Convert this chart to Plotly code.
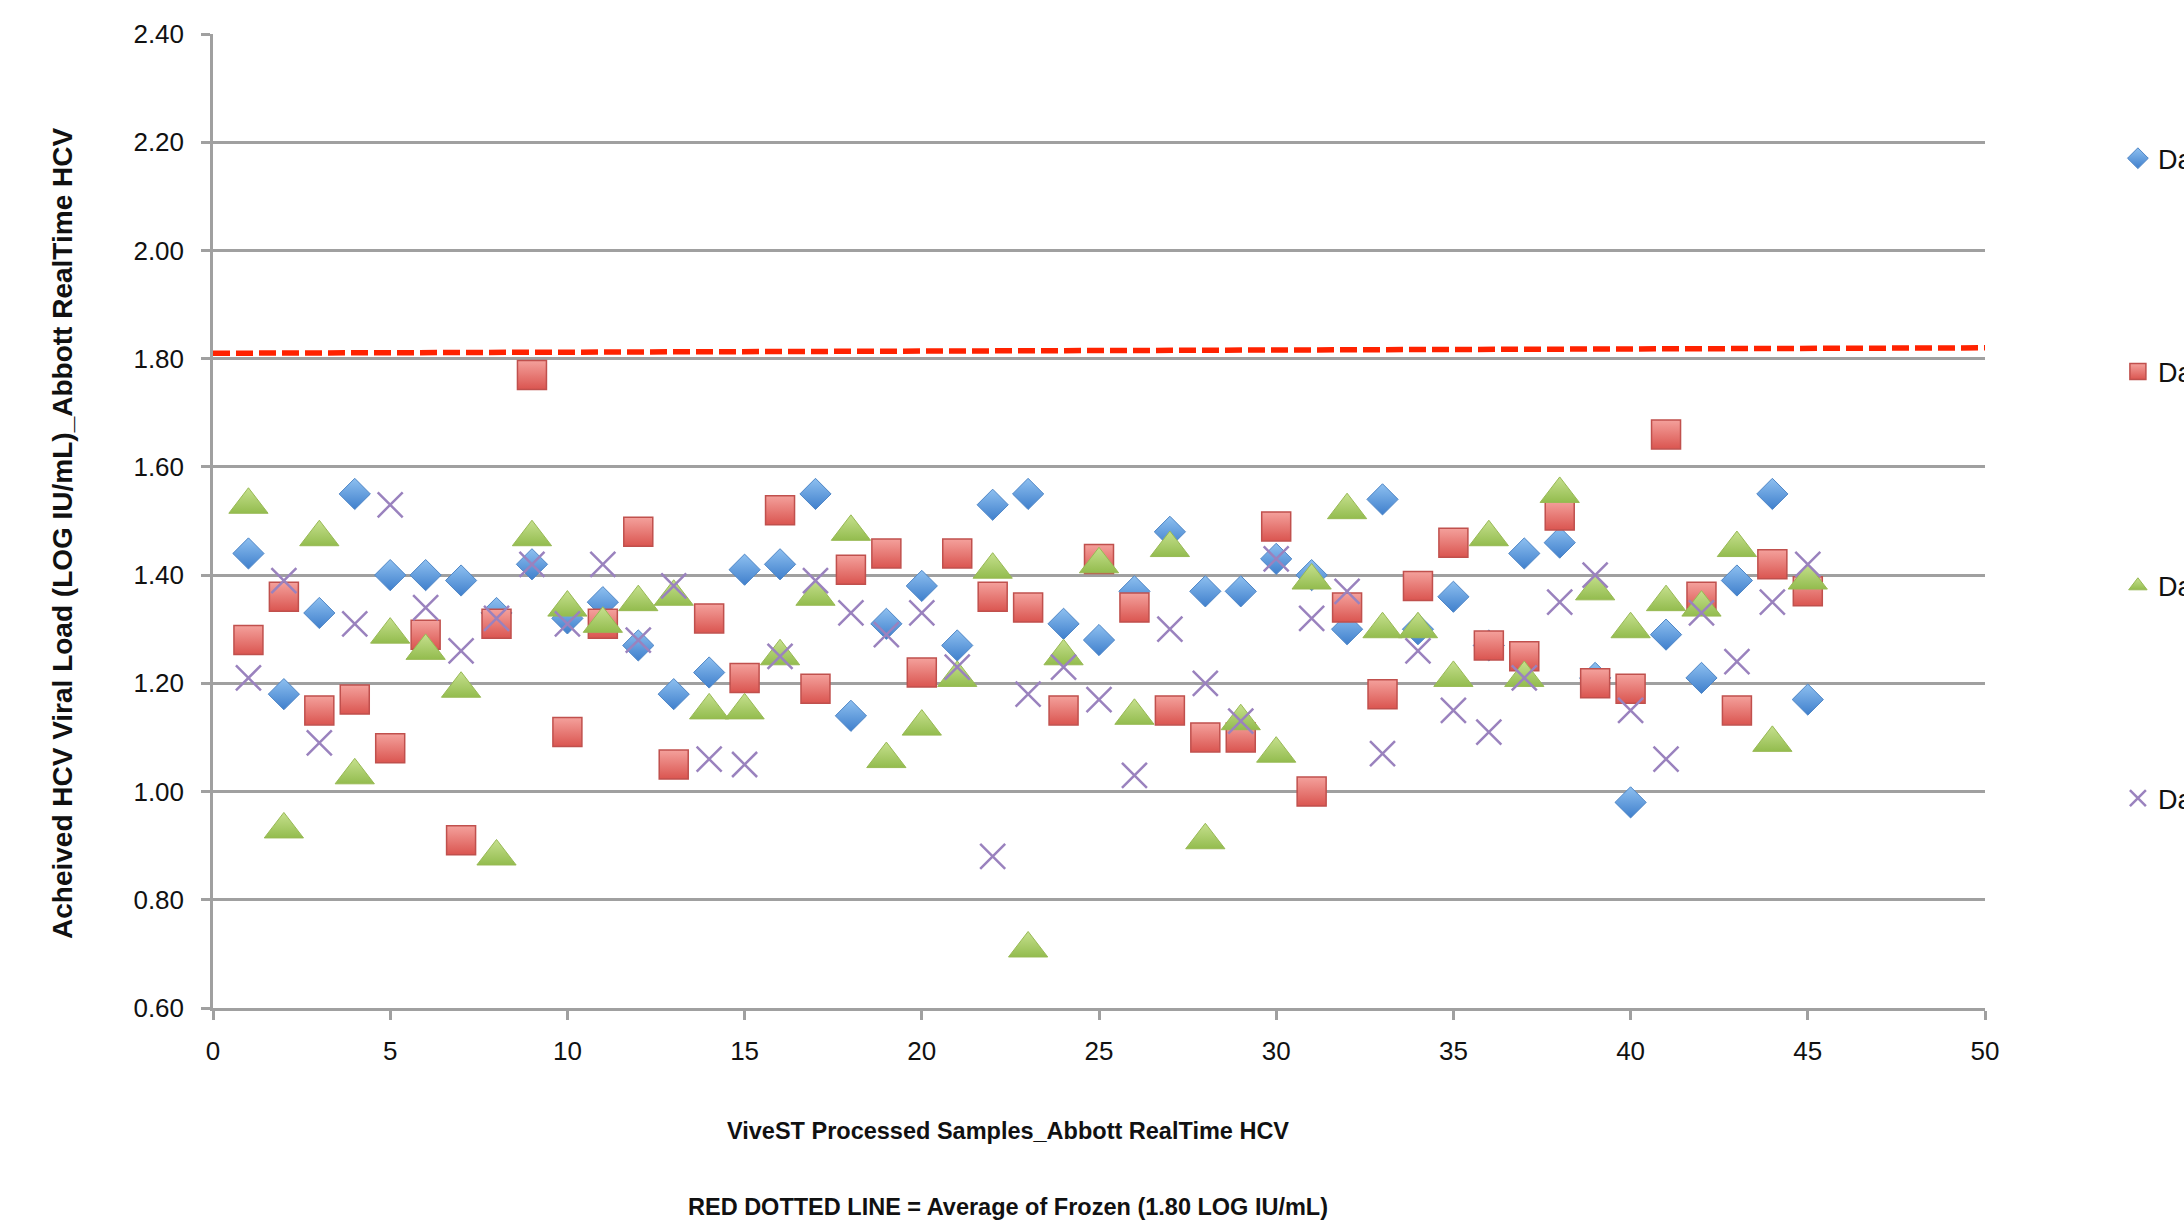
import plotly.graph_objects as go

samples = list(range(1, 46))

day_a = [1.44, 1.18, 1.33, 1.55, 1.40, 1.40, 1.39, 1.33, 1.42, 1.32,
         1.35, 1.27, 1.18, 1.22, 1.41, 1.42, 1.55, 1.14, 1.31, 1.38,
         1.27, 1.53, 1.55, 1.31, 1.28, 1.37, 1.48, 1.37, 1.37, 1.43,
         1.40, 1.30, 1.54, 1.30, 1.36, 1.27, 1.44, 1.46, 1.21, 0.98,
         1.29, 1.21, 1.39, 1.55, 1.17]
day_b = [1.28, 1.36, 1.15, 1.17, 1.08, 1.29, 0.91, 1.31, 1.77, 1.11,
         1.31, 1.48, 1.05, 1.32, 1.21, 1.52, 1.19, 1.41, 1.44, 1.22,
         1.44, 1.36, 1.34, 1.15, 1.43, 1.34, 1.15, 1.10, 1.10, 1.49,
         1.00, 1.34, 1.18, 1.38, 1.46, 1.27, 1.25, 1.51, 1.20, 1.19,
         1.66, 1.36, 1.15, 1.42, 1.37]
day_c = [1.53, 0.93, 1.47, 1.03, 1.29, 1.26, 1.19, 0.88, 1.47, 1.34,
         1.31, 1.35, 1.36, 1.15, 1.15, 1.25, 1.36, 1.48, 1.06, 1.12,
         1.21, 1.41, 0.71, 1.25, 1.42, 1.14, 1.45, 0.91, 1.13, 1.07,
         1.39, 1.52, 1.30, 1.30, 1.21, 1.47, 1.21, 1.55, 1.37, 1.30,
         1.35, 1.34, 1.45, 1.09, 1.39]
day_d = [1.21, 1.39, 1.09, 1.31, 1.53, 1.34, 1.26, 1.32, 1.42, 1.31,
         1.42, 1.28, 1.38, 1.06, 1.05, 1.25, 1.39, 1.33, 1.29, 1.33,
         1.23, 0.88, 1.18, 1.23, 1.17, 1.03, 1.30, 1.20, 1.13, 1.43,
         1.32, 1.37, 1.07, 1.26, 1.15, 1.11, 1.21, 1.35, 1.40, 1.15,
         1.06, 1.33, 1.24, 1.35, 1.42]

series_names = ["Day 1", "Day 2", "Day 3", "Day 4"]

avg_line_x = [0, 50]
avg_line_y = [1.81, 1.82]

y_ticks = [0.60, 0.80, 1.00, 1.20, 1.40, 1.60, 1.80, 2.00, 2.20, 2.40]
x_ticks = [0, 5, 10, 15, 20, 25, 30, 35, 40, 45, 50]

FONT = "Liberation Sans, Arial, sans-serif"

fig = go.Figure()

fig.add_trace(go.Scatter(
    x=avg_line_x, y=avg_line_y, mode="lines", showlegend=False,
    line=dict(color="#FF2200", width=5.5, dash="17px,6px"), hoverinfo="skip"))

fig.add_trace(go.Scatter(
    x=samples, y=day_a, mode="markers", name=series_names[0], legend="legend",
    marker=dict(symbol="diamond", size=24, color="#8EC0F0",
                gradient=dict(type="vertical", color="#3F7FCC"),
                line=dict(color="#4F86C6", width=1))))
fig.add_trace(go.Scatter(
    x=samples, y=day_b, mode="markers", name=series_names[1], legend="legend2",
    marker=dict(symbol="square", size=29, color="#F4A19C",
                gradient=dict(type="vertical", color="#DA5550"),
                line=dict(color="#C0504D", width=1.5))))
fig.add_trace(go.Scatter(
    x=samples, y=day_c, mode="markers", name=series_names[2], legend="legend3",
    marker=dict(symbol="triangle-up", size=34, color="#C6E08E",
                gradient=dict(type="vertical", color="#93BC4E"),
                line=dict(color="#98B954", width=1))))
fig.add_trace(go.Scatter(
    x=samples, y=day_d, mode="markers", name=series_names[3], legend="legend4",
    marker=dict(symbol="x-thin", size=25, color="#8E72B5",
                line=dict(color="#9A82BE", width=2.5))))

legend_common = dict(xanchor="left", yanchor="middle", x=1.075,
                     bgcolor="rgba(0,0,0,0)", borderwidth=0,
                     font=dict(family=FONT, size=27, color="#111111"))

fig.update_layout(
    width=2184, height=1232,
    paper_bgcolor="white", plot_bgcolor="white",
    margin=dict(l=213, r=199, t=34, b=224, autoexpand=False),
    legend=dict(y=0.872, **legend_common),
    legend2=dict(y=0.653, **legend_common),
    legend3=dict(y=0.433, **legend_common),
    legend4=dict(y=0.215, **legend_common),
    xaxis=dict(range=[0, 50], tickvals=x_ticks, ticktext=[str(v) for v in x_ticks],
               showgrid=False, zeroline=False, showline=True, linecolor="#A0A0A0",
               linewidth=2.5, ticks="outside", ticklen=9, tickwidth=2.5,
               tickcolor="#A0A0A0", ticklabelstandoff=9,
               tickfont=dict(family=FONT, size=26, color="#111111")),
    yaxis=dict(range=[0.60, 2.40], tickvals=y_ticks,
               ticktext=["%.2f" % v for v in y_ticks],
               showgrid=True, gridcolor="#A0A0A0", gridwidth=2.5,
               zeroline=False, showline=True, linecolor="#A0A0A0", linewidth=2.5,
               ticks="outside", ticklen=9, tickwidth=2.5, tickcolor="#A0A0A0",
               ticklabelstandoff=12,
               tickfont=dict(family=FONT, size=26, color="#111111")),
    annotations=[
        dict(text="<b>ViveST Processed Samples_Abbott RealTime HCV</b>",
             xref="paper", yref="paper", x=0.4487, y=(1008 - 1131) / 974,
             xanchor="center", yanchor="middle", showarrow=False,
             font=dict(family=FONT, size=23.5, color="#111111")),
        dict(text="<b>RED DOTTED LINE = Average of Frozen (1.80 LOG IU/mL)</b>",
             xref="paper", yref="paper", x=0.4487, y=(1008 - 1207) / 974,
             xanchor="center", yanchor="middle", showarrow=False,
             font=dict(family=FONT, size=23.5, color="#111111")),
        dict(text="<b>Acheived HCV Viral Load (LOG IU/mL)_Abbott RealTime HCV</b>",
             xref="paper", yref="paper", x=(62 - 213) / 1772, y=(1008 - 534) / 974,
             xanchor="center", yanchor="middle", showarrow=False, textangle=-90,
             font=dict(family=FONT, size=28, color="#111111")),
    ],
)

fig.write_html("out.html", config={"displayModeBar": False},
               post_script="document.body.style.margin='0';")
